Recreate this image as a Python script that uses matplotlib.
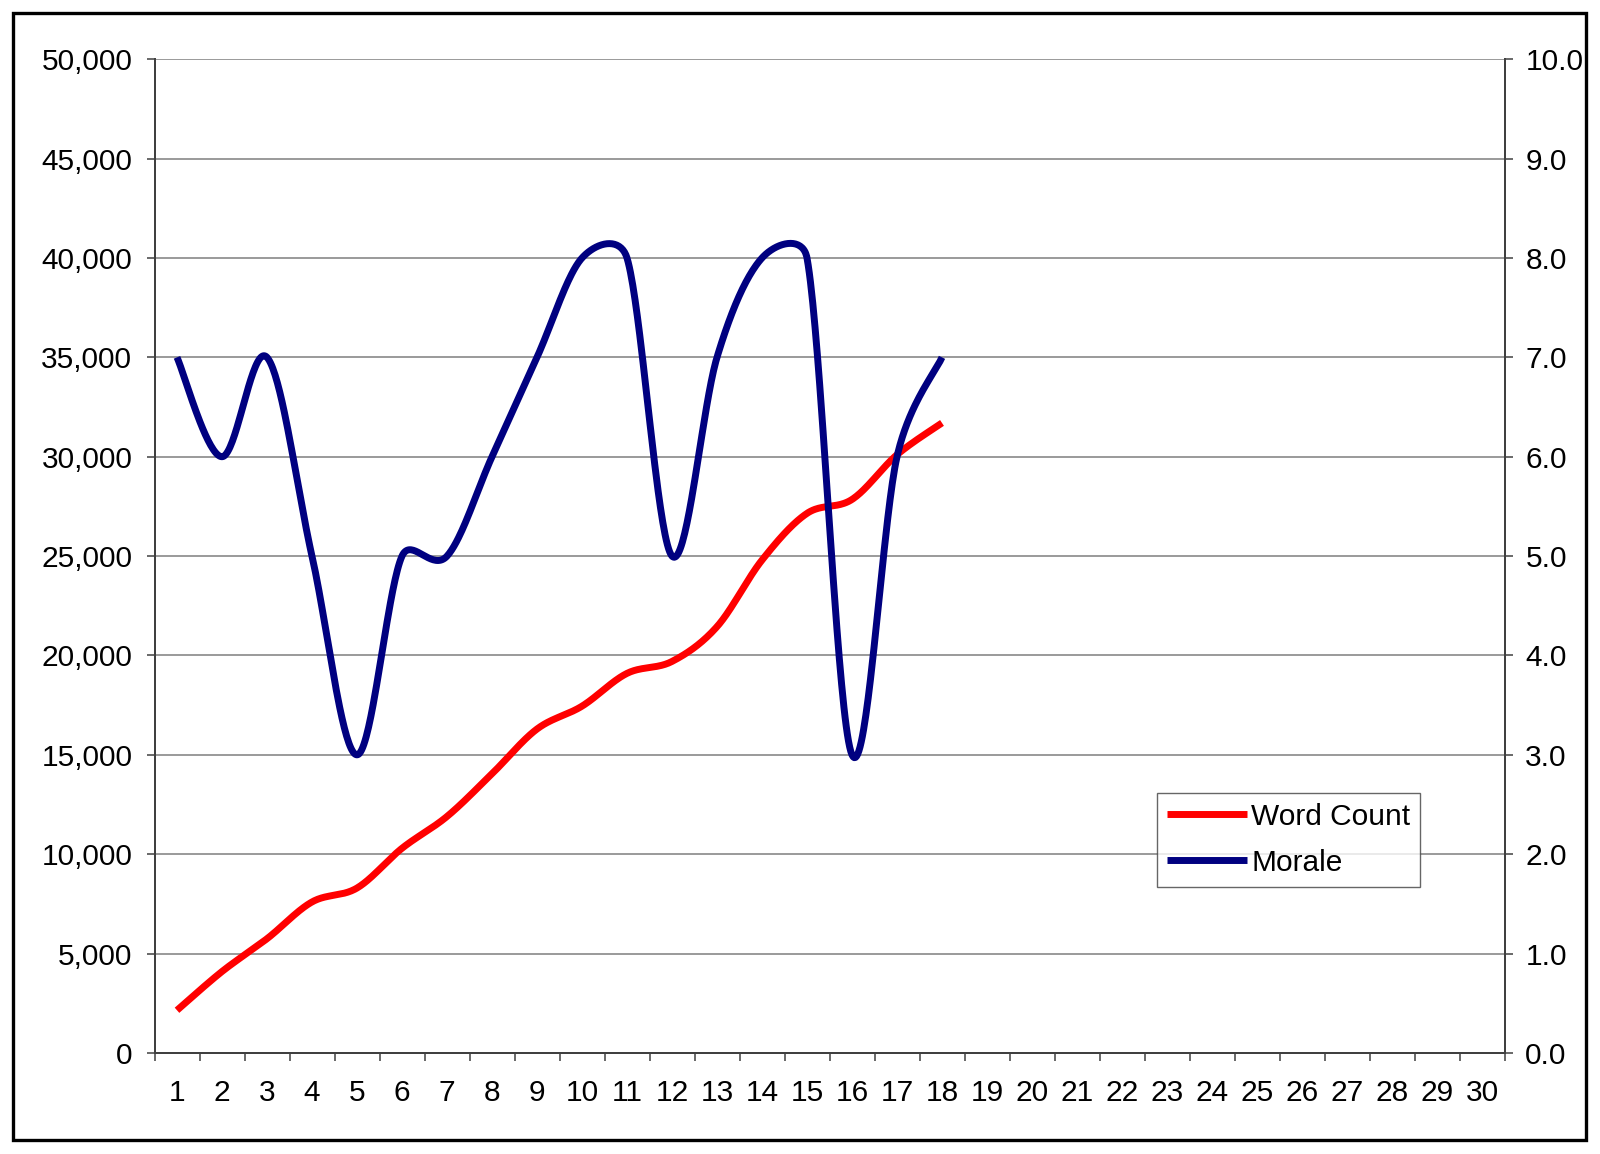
import numpy as np
import matplotlib
matplotlib.use("Agg")
import matplotlib.pyplot as plt
from matplotlib.lines import Line2D
from matplotlib.patches import Rectangle
from matplotlib.ticker import FuncFormatter, FixedLocator

# ---- data ----
categories = list(range(1, 31))
days = list(range(1, 19))
word_count = [2150, 4100, 5750, 7600, 8300, 10300, 11900, 14050, 16300,
              17450, 19100, 19700, 21450, 24800, 27150, 27850, 30100, 31700]
morale = [7, 6, 7, 5, 3, 5, 5, 6, 7, 8, 8, 5, 7, 8, 8, 3, 6, 7]
left_ticks = list(range(0, 50001, 5000))
right_ticks = list(range(0, 11, 1))

plt.rcParams['font.family'] = ['Liberation Sans', 'DejaVu Sans']

W, H = 1600, 1154
fig = plt.figure(figsize=(W / 100, H / 100), dpi=100)
fig.patch.set_facecolor('white')

L, R, T, B = 154.5, 1504.5, 59.2, 1053.0
ax = fig.add_axes([L / W, 1 - B / H, (R - L) / W, (B - T) / H])
ax2 = ax.twinx()

ax.set_xlim(0.5, 30.5)
ax.set_ylim(0, 50000)
ax2.set_ylim(0, 10)


def excel_smooth(axis, xs, ys, n=40):
    """Excel-style smoothed line (Bezier) computed in display space."""
    pts = axis.transData.transform(np.column_stack([xs, ys]).astype(float))
    m = len(pts)
    out = []
    for i in range(m - 1):
        p1, p2 = pts[i], pts[i + 1]
        p0 = pts[i - 1] if i > 0 else p1
        p3 = pts[i + 2] if i + 2 < m else p2
        d12 = np.linalg.norm(p2 - p1)
        d02 = np.linalg.norm(p2 - p0)
        d13 = np.linalg.norm(p3 - p1)
        f = 1 / 6
        g = 1 / 6
        if not (d02 / 6 < d12 / 2 and d13 / 6 < d12 / 2):
            if d02 / 6 >= d12 / 2:
                f = d12 / d02 / 2
            if d13 / 6 >= d12 / 2:
                g = d12 / d13 / 2
        c1 = p1 + f * (p2 - p0)
        c2 = p2 - g * (p3 - p1)
        t = np.linspace(0, 1, n)[:, None]
        seg = ((1 - t) ** 3) * p1 + 3 * ((1 - t) ** 2) * t * c1 + \
              3 * (1 - t) * t ** 2 * c2 + t ** 3 * p2
        if i > 0:
            seg = seg[1:]
        out.append(seg)
    out = np.vstack(out)
    data = axis.transData.inverted().transform(out)
    return data[:, 0], data[:, 1]


red = '#FF0000'
navy = '#000080'
lw = 5.0
fs = 21.5

wx, wy = excel_smooth(ax, days, word_count)
ax.plot(wx, wy, color=red, lw=lw, solid_capstyle='butt', zorder=3)
mx, my = excel_smooth(ax2, days, morale)
ax2.plot(mx, my, color=navy, lw=lw, solid_capstyle='butt', zorder=3)

# grid
grid_c = '#7f7f7f'
ax.yaxis.set_major_locator(FixedLocator(left_ticks))
ax.grid(axis='y', color=grid_c, lw=1.1)
ax.set_axisbelow(True)
ax.yaxis.set_major_formatter(FuncFormatter(lambda v, p: f"{v:,.0f}"))
ax2.yaxis.set_major_locator(FixedLocator(right_ticks))
ax2.yaxis.set_major_formatter(FuncFormatter(lambda v, p: f"{v:.1f}"))

# x axis: ticks between categories, labels at centres
ax.set_xticks(np.arange(0.5, 31, 1.0))
ax.set_xticklabels([])
ax.set_xticks(categories, [str(c) for c in categories], minor=True)

spine_c = '#404040'
for a in (ax, ax2):
    for s in a.spines.values():
        s.set_color(spine_c)
        s.set_linewidth(1.4)
    a.spines['top'].set_visible(False)

ax.tick_params(axis='x', which='major', direction='out', length=6, width=1.1,
               color=spine_c)
ax.tick_params(axis='x', which='minor', length=0, pad=19, labelsize=fs)
ax.tick_params(axis='y', direction='out', length=6, width=1.1, color=spine_c,
               pad=10, labelsize=fs)
ax2.tick_params(axis='y', direction='out', length=6, width=1.1, color=spine_c,
                pad=9, labelsize=fs)

# legend
handles = [Line2D([], [], color=red, lw=lw, solid_capstyle='butt'),
           Line2D([], [], color=navy, lw=lw, solid_capstyle='butt')]
leg = ax2.legend(handles, ['Word Count', 'Morale'], loc='upper left',
                 bbox_to_anchor=(0.7426, 0.2616), borderaxespad=0,
                 fontsize=fs, frameon=True, fancybox=False,
                 handlelength=2.7, handletextpad=0.13, labelspacing=0.6,
                 borderpad=0.33)
leg.get_frame().set_edgecolor('#404040')
leg.get_frame().set_linewidth(1.0)
leg.set_zorder(10)

# outer chart frame
fig.add_artist(Rectangle((13 / W, 1 - 1140 / H), (1586 - 13) / W,
                         (1140 - 13) / H, transform=fig.transFigure,
                         fill=False, lw=2.4, ec='black'))

fig.savefig('out.png', dpi=100, facecolor='white')
